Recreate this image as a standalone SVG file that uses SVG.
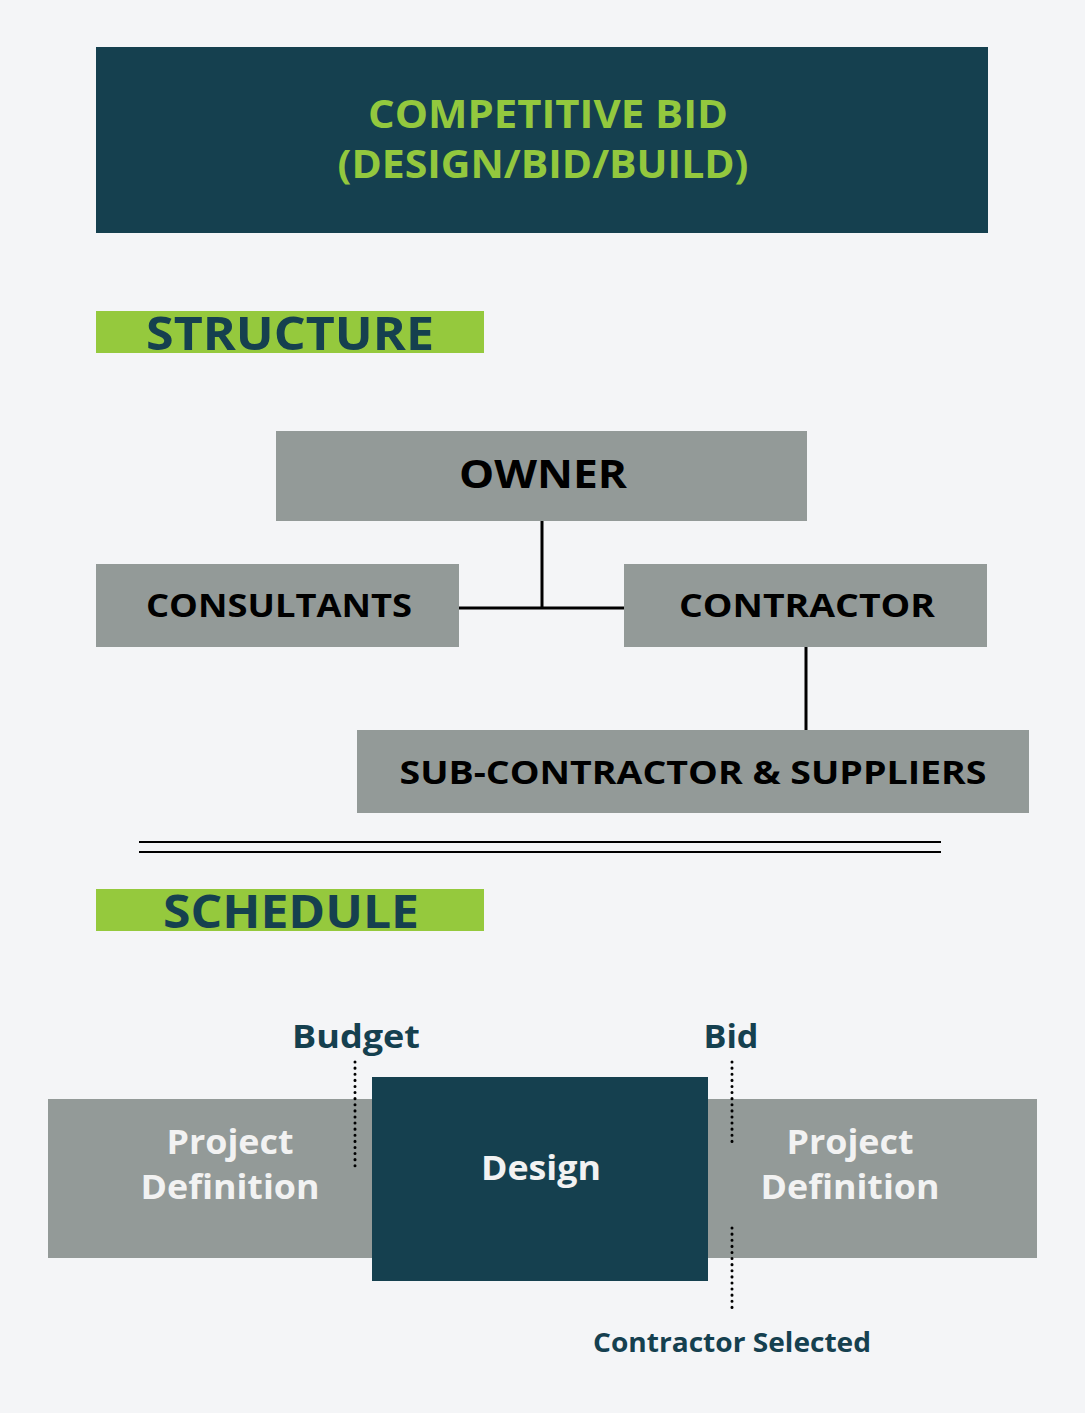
<svg xmlns="http://www.w3.org/2000/svg" width="1085" height="1413" viewBox="0 0 1085 1413">
<style>
.t{font-family:"Open Sans","Noto Sans","Liberation Sans",sans-serif;font-weight:700;text-anchor:middle}
.box{fill:#939a98}
.dark{fill:#15404f}
.green{fill:#95c93d}
.lbl{fill:#000;font-size:33px}
.conn{stroke:#000;stroke-width:3;fill:none}
.dot{stroke:#000;stroke-width:3;stroke-dasharray:0.1 6;stroke-linecap:round;fill:none}
</style>
<rect width="1085" height="1413" fill="#f4f5f7"/>
<g id="title">
<rect x="96" y="47" width="892" height="186" class="dark"/>
<text class="t" x="548" y="128" font-size="39" fill="#93c83e" textLength="360" lengthAdjust="spacingAndGlyphs">COMPETITIVE BID</text>
<text class="t" x="543" y="178" font-size="39" fill="#93c83e" textLength="411" lengthAdjust="spacingAndGlyphs">(DESIGN/BID/BUILD)</text>
</g>
<g id="structure-heading">
<rect x="96" y="311" width="388" height="42" class="green"/>
<text class="t" x="290" y="350" font-size="46" fill="#15404f" textLength="288" lengthAdjust="spacingAndGlyphs">STRUCTURE</text>
</g>
<g id="owner">
<rect x="276" y="431" width="531" height="90" class="box"/>
<text class="t" x="543" y="488" font-size="40" fill="#000" textLength="168" lengthAdjust="spacingAndGlyphs">OWNER</text>
</g>
<g id="consultants">
<rect x="96" y="564" width="363" height="83" class="box"/>
<text class="t lbl" x="279" y="617" textLength="266" lengthAdjust="spacingAndGlyphs">CONSULTANTS</text>
</g>
<g id="contractor">
<rect x="624" y="564" width="363" height="83" class="box"/>
<text class="t lbl" x="807" y="617" textLength="256" lengthAdjust="spacingAndGlyphs">CONTRACTOR</text>
</g>
<g id="subcontractor">
<rect x="357" y="730" width="672" height="83" class="box"/>
<text class="t lbl" x="693" y="784" textLength="587" lengthAdjust="spacingAndGlyphs">SUB-CONTRACTOR &amp; SUPPLIERS</text>
</g>
<g id="schedule-heading">
<rect x="96" y="889" width="388" height="42" class="green"/>
<text class="t" x="291" y="928" font-size="46" fill="#15404f" textLength="256" lengthAdjust="spacingAndGlyphs">SCHEDULE</text>
</g>
<g id="project-definition-left">
<rect x="48" y="1099" width="324" height="159" class="box"/>
<text class="t" x="230" y="1154" font-size="34" fill="#f2f2f2" textLength="127" lengthAdjust="spacingAndGlyphs">Project</text>
<text class="t" x="230" y="1199" font-size="34" fill="#f2f2f2" textLength="179" lengthAdjust="spacingAndGlyphs">Definition</text>
</g>
<g id="project-definition-right">
<rect x="708" y="1099" width="329" height="159" class="box"/>
<text class="t" x="850" y="1154" font-size="34" fill="#f2f2f2" textLength="127" lengthAdjust="spacingAndGlyphs">Project</text>
<text class="t" x="850" y="1199" font-size="34" fill="#f2f2f2" textLength="179" lengthAdjust="spacingAndGlyphs">Definition</text>
</g>
<g id="design">
<rect x="372" y="1077" width="336" height="204" class="dark"/>
<text class="t" x="541" y="1180" font-size="34" fill="#f2f2f2" textLength="120" lengthAdjust="spacingAndGlyphs">Design</text>
</g>
<g id="budget">
<text class="t" x="356" y="1048" font-size="33" fill="#15404f" textLength="128" lengthAdjust="spacingAndGlyphs">Budget</text>
</g>
<g id="bid">
<text class="t" x="731" y="1048" font-size="33" fill="#15404f" textLength="55" lengthAdjust="spacingAndGlyphs">Bid</text>
</g>
<g id="contractor-selected">
<text class="t" x="732" y="1352" font-size="26" fill="#15404f" textLength="278" lengthAdjust="spacingAndGlyphs">Contractor Selected</text>
</g>
<g id="connectors">
<line class="conn" x1="542" y1="521" x2="542" y2="608"/>
<line class="conn" x1="459" y1="608" x2="624" y2="608"/>
<line class="conn" x1="806" y1="647" x2="806" y2="730"/>
<line x1="139" y1="842" x2="941" y2="842" stroke="#000" stroke-width="2"/>
<line x1="139" y1="852" x2="941" y2="852" stroke="#000" stroke-width="2"/>
<line class="dot" x1="355" y1="1062" x2="355" y2="1168"/>
<line class="dot" x1="732" y1="1062" x2="732" y2="1145"/>
<line class="dot" x1="732" y1="1228" x2="732" y2="1312"/>
</g>
</svg>
